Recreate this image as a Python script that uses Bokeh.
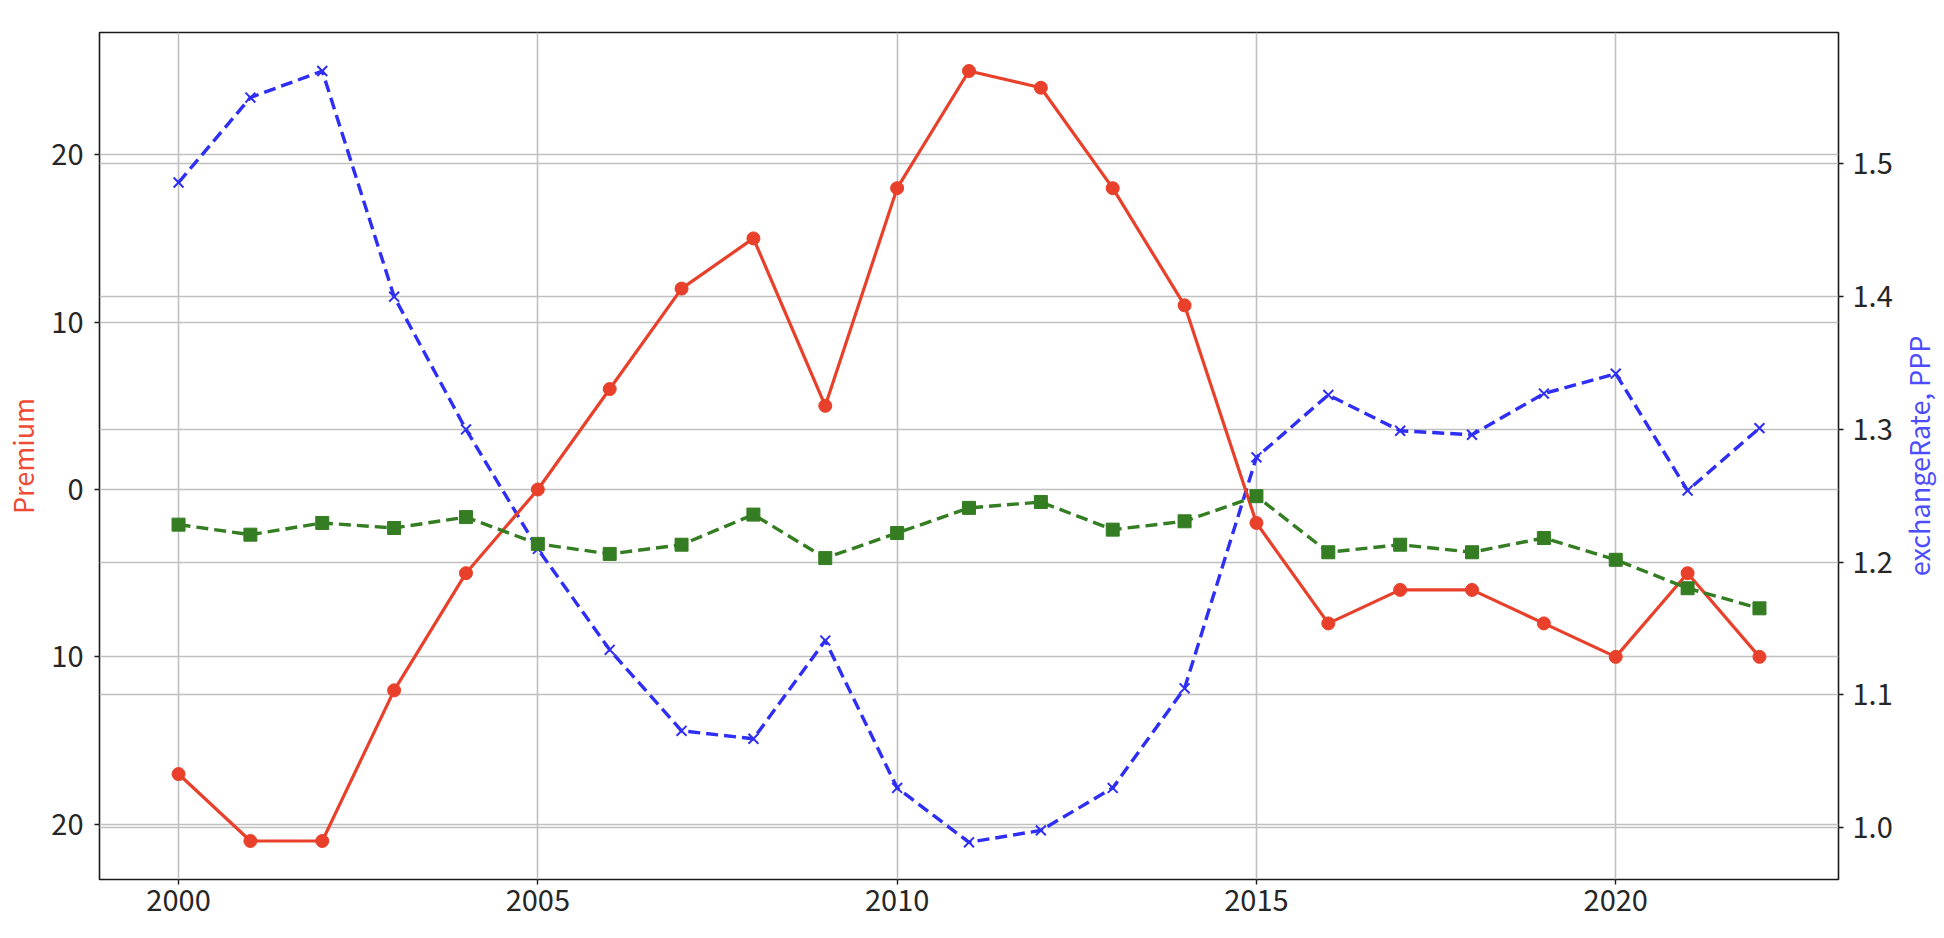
from bokeh.plotting import figure
from bokeh.layouts import row
from bokeh.models import (Range1d, LinearAxis, Grid, FixedTicker,
                          NumeralTickFormatter, ColumnDataSource)
from bokeh.embed import file_html
from bokeh.resources import INLINE

# ---- data ----
years = [2000, 2001, 2002, 2003, 2004, 2005, 2006, 2007, 2008, 2009, 2010,
         2011, 2012, 2013, 2014, 2015, 2016, 2017, 2018, 2019, 2020, 2021, 2022]
premium = [-17, -21, -21, -12, -5, 0, 6, 12, 15, 5, 18,
           25, 24, 18, 11, -2, -8, -6, -6, -8, -10, -5, -10]
secondary = [-2.1, -2.7, -2.0, -2.3, -1.65, -3.25, -3.85, -3.3, -1.5, -4.1, -2.6,
             -1.1, -0.75, -2.4, -1.9, -0.4, -3.75, -3.3, -3.75, -2.9, -4.2, -5.9, -7.1]
exchange_rate_ppp = [1.486, 1.55, 1.57, 1.40, 1.30, 1.21, 1.134, 1.073, 1.067, 1.141, 1.03,
                     0.989, 0.998, 1.03, 1.105, 1.279, 1.326, 1.299, 1.296, 1.327, 1.342, 1.254, 1.301]

x_ticks = [2000, 2005, 2010, 2015, 2020]
left_ticks = [-20, -10, 0, 10, 20]
left_tick_labels = {-20: "20", -10: "10", 0: "0", 10: "10", 20: "20"}
right_ticks = [1.0, 1.1, 1.2, 1.3, 1.4, 1.5]

source = ColumnDataSource(dict(year=years, premium=premium, secondary=secondary,
                               fx=exchange_rate_ppp))

RED = "#E8402A"
GREEN = "#347D22"
BLUE = "#2E2EF5"
FONT = "Noto Sans CJK SC"
TICK_FS = "29px"
LABEL_FS = "27px"
FRAME_W, FRAME_H = 1739, 847
TOP, BOTTOM = 32, 51

p = figure(frame_width=FRAME_W, frame_height=FRAME_H,
           min_border_left=91, min_border_right=52, min_border_top=TOP, min_border_bottom=BOTTOM,
           x_range=Range1d(1998.9, 2023.1), y_range=Range1d(-23.3, 27.3),
           output_backend="svg", toolbar_location=None,
           background_fill_color="white", border_fill_color="white")
p.extra_y_ranges = {"fx": Range1d(0.961, 1.599)}

right_axis = LinearAxis(y_range_name="fx")
p.add_layout(right_axis, "right")

# grids
GRID_COLOR = "#c0c0c0"
p.xgrid.ticker = FixedTicker(ticks=x_ticks)
p.ygrid.ticker = FixedTicker(ticks=left_ticks)
for g in (p.xgrid[0], p.ygrid[0]):
    g.grid_line_color = GRID_COLOR
    g.grid_line_width = 1.6
rgrid = Grid(dimension=1, ticker=FixedTicker(ticks=right_ticks), y_range_name="fx",
             grid_line_color=GRID_COLOR, grid_line_width=1.6)
p.add_layout(rgrid)

# axes styling
p.outline_line_color = "#1a1a1a"
p.outline_line_width = 1.6

left_axis = p.left[0]
bottom_axis = p.below[0]
left_axis.ticker = FixedTicker(ticks=left_ticks)
left_axis.major_label_overrides = left_tick_labels
right_axis.ticker = FixedTicker(ticks=right_ticks)
right_axis.formatter = NumeralTickFormatter(format="0.0")
bottom_axis.ticker = FixedTicker(ticks=x_ticks)

for ax in (left_axis, right_axis, bottom_axis):
    ax.axis_line_color = None
    ax.major_tick_line_color = "#1a1a1a"
    ax.major_tick_line_width = 1.4
    ax.major_tick_out = 5
    ax.major_tick_in = 0
    ax.minor_tick_line_color = None
    ax.major_label_text_font = FONT
    ax.major_label_text_font_size = TICK_FS
    ax.major_label_text_color = "#262626"
    ax.axis_label_text_font = FONT
    ax.axis_label_text_font_size = LABEL_FS
    ax.axis_label_text_font_style = "normal"

left_axis.axis_label = "Premium"
left_axis.axis_label_text_color = "#EE4A35"
left_axis.major_label_standoff = 11
left_axis.axis_label_standoff = 6

right_axis.major_label_standoff = 9
bottom_axis.major_label_standoff = 5

# series
p.line("year", "fx", source=source, y_range_name="fx", line_color=BLUE,
       line_width=3.4, line_dash="12 6")
p.scatter("year", "fx", source=source, y_range_name="fx", marker="x", size=14,
          line_color=BLUE, line_width=2)

p.line("year", "premium", source=source, line_color=RED, line_width=3.2)
p.scatter("year", "premium", source=source, marker="circle", size=13,
          fill_color=RED, line_color=RED)

p.line("year", "secondary", source=source, line_color=GREEN, line_width=3.4,
       line_dash="12 6")
p.scatter("year", "secondary", source=source, marker="square", size=13,
          fill_color=GREEN, line_color=GREEN)

# thin companion panel that only carries the right-hand axis title
# (a left-side axis title reads bottom-to-top, as in the reference)
q = figure(frame_width=1, frame_height=FRAME_H,
           min_border_left=0, min_border_right=0, min_border_top=TOP, min_border_bottom=BOTTOM,
           x_range=Range1d(0, 1), y_range=Range1d(0, 1), x_axis_location=None,
           output_backend="svg", toolbar_location=None,
           background_fill_color="white", border_fill_color="white")
q.outline_line_color = None
q.grid.visible = False
q_axis = q.left[0]
q_axis.ticker = FixedTicker(ticks=[])
q_axis.axis_line_color = None
q_axis.major_tick_line_color = None
q_axis.minor_tick_line_color = None
q_axis.axis_label = "exchangeRate, PPP"
q_axis.axis_label_text_font = FONT
q_axis.axis_label_text_font_size = LABEL_FS
q_axis.axis_label_text_font_style = "normal"
q_axis.axis_label_text_color = "#4D4DFF"
q_axis.axis_label_standoff = 0

layout = row(p, q, spacing=0)
open("out.html", "w").write(file_html(layout, INLINE))
